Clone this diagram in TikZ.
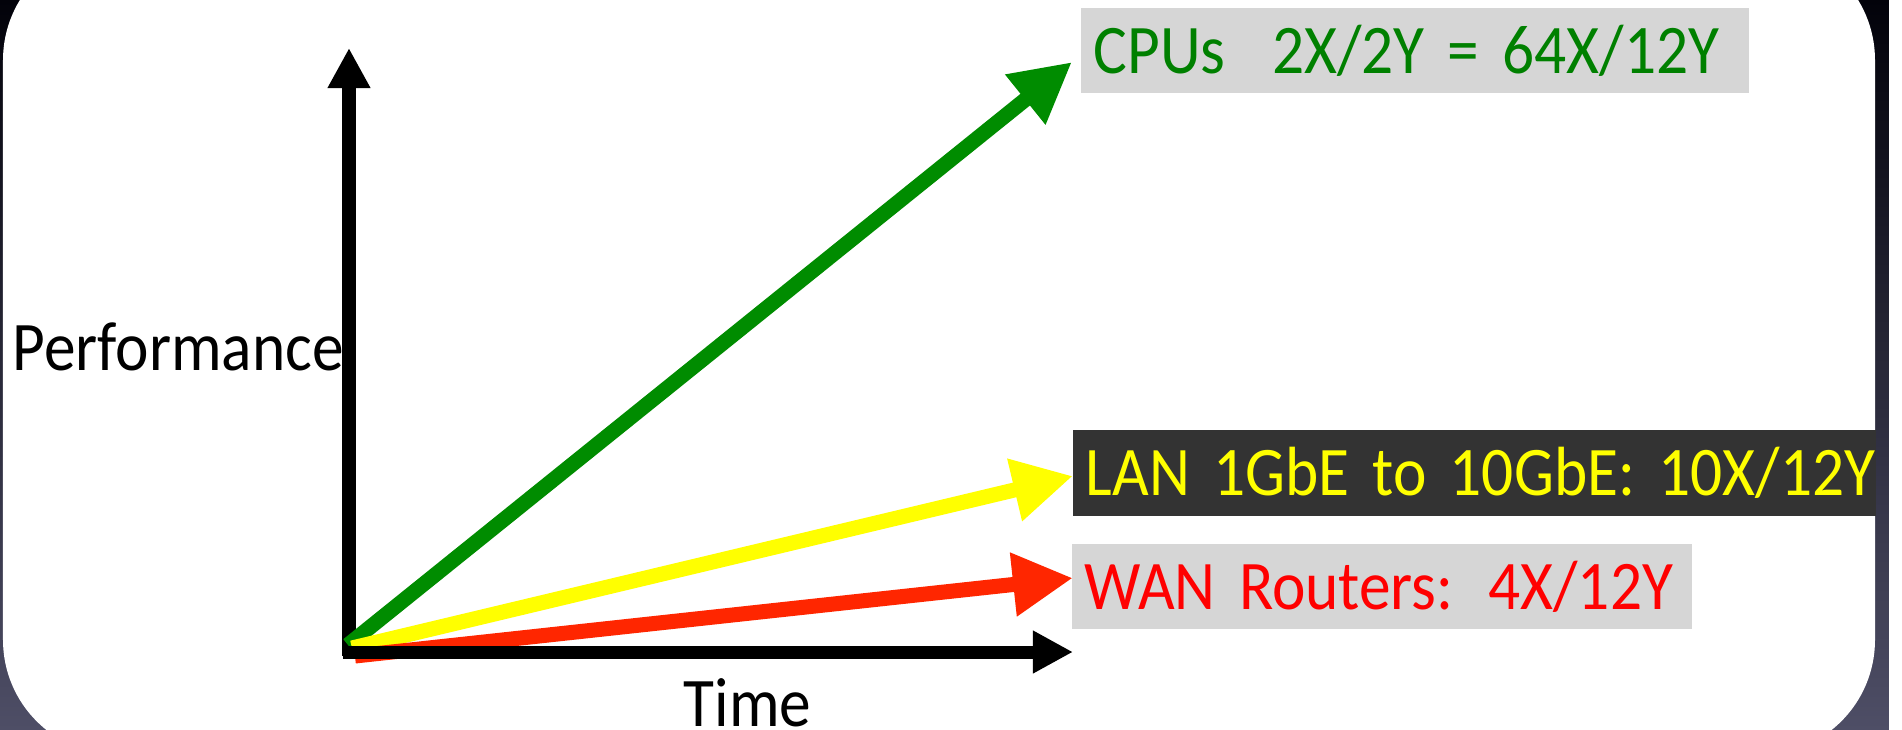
\documentclass[tikz,border=0pt]{standalone}
\usepackage{fontspec}
\setmainfont{Carlito}[FakeStretch=0.91,WordSpace=0.8]
\usepackage{tikz}
\usetikzlibrary{arrows.meta}
\usepackage{xcolor}
\definecolor{cpuline}{RGB}{0,140,0}
\definecolor{cputext}{RGB}{0,128,0}
\definecolor{lanline}{RGB}{255,255,0}
\definecolor{wanline}{RGB}{255,38,0}
\definecolor{wantext}{RGB}{255,0,0}
\definecolor{boxgrey}{RGB}{214,214,214}
\definecolor{boxdark}{RGB}{51,51,51}
\definecolor{slidetop}{RGB}{2,2,10}
\definecolor{slidebottom}{RGB}{78,78,102}

\begin{document}
\begin{tikzpicture}[x=0.01cm,y=-0.01cm,
		axis/.style={line width=0.13cm,-{Triangle[length=0.4cm,width=0.4cm]}},
		growth/.style={line width=0.15cm,-{Triangle[length=0.6cm,width=0.6cm]}},
		axislabel/.style={anchor=base west,inner sep=0pt,font=\fontsize{19.8}{24}\selectfont},
		labelbox/.style={anchor=west,minimum height=0.85cm,inner xsep=0.13cm,
			align=left,font=\fontsize{19.8}{24}\selectfont}]
		\useasboundingbox (0,0) rectangle (1902,730);
		\clip (0,0) rectangle (1902,730);
		% SLIDE BACKGROUND
		\shade [top color=slidetop,bottom color=slidebottom] (0,0) rectangle (1889,730);
		\fill [white] (1889,0) rectangle (1902,730);
		\fill [white,rounded corners=1.15cm] (3,-55) rectangle (1875,755);
		% AXES
		\coordinate (origin) at (349,652);
		\coordinate (ytip) at (349,48);
		\coordinate (xstart) at (343,652);
		\coordinate (xtip) at (1073,652);
		\draw [axis] (349,656) -- (ytip);
		\node [axislabel] (perf) at (12,370) {Performance};
		\node [axislabel] (time) at (683,726) {Time};
		% GROWTH ARROWS
		\coordinate (cpustart) at (348,645);
		\coordinate (cputip) at (1072,62);
		\coordinate (lanstart) at (352,648);
		\coordinate (lantip) at (1073,476);
		\coordinate (wanstart) at (355,656);
		\coordinate (wantip) at (1073,578);
		\draw [growth,cpuline] (cpustart) -- (cputip);
		\draw [growth,lanline] (lanstart) -- (lantip);
		\draw [growth,wanline] (wanstart) -- (wantip);
		\draw [axis] (xstart) -- (xtip);
		% LABELS
		\node [labelbox,fill=boxgrey,text=cputext,text width=6.42cm] (cpu) at (1080,50.5) {\mbox{\raisebox{-0.07cm}{CPUs~~2X/2Y = 64X/12Y}}};
		\node [labelbox,fill=boxdark,text=lanline,text width=7.77cm,minimum height=0.86cm] (lan) at (1072,473) {\mbox{LAN 1GbE to 10GbE: 10X/12Y}};
		\node [labelbox,fill=boxgrey,text=wantext,text width=5.94cm] (wan) at (1071,586.5) {\mbox{WAN Routers: 4X/12Y}};
\end{tikzpicture}
\end{document}
